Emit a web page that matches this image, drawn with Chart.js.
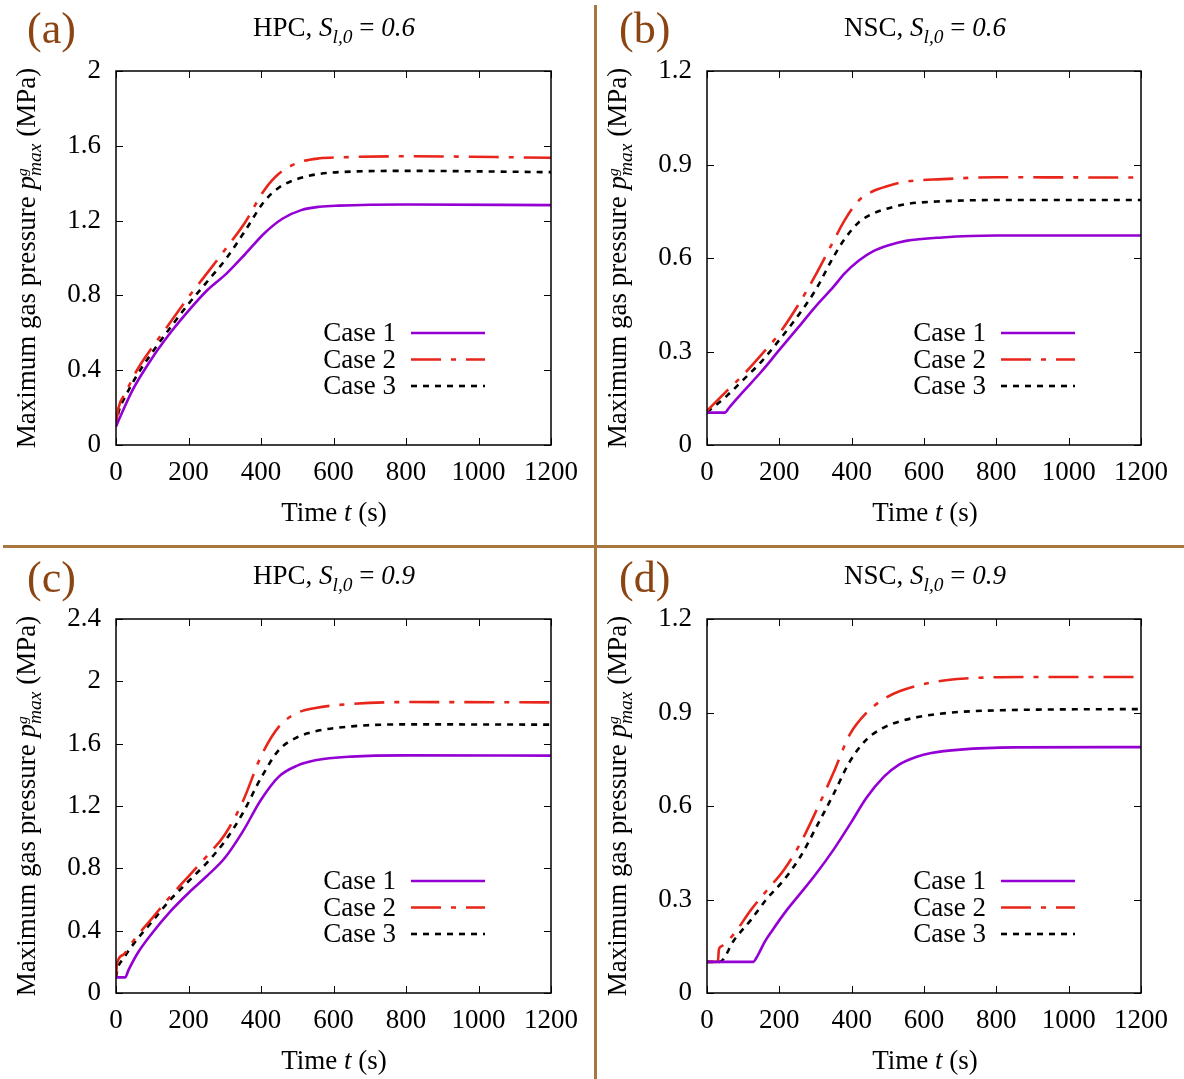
<!DOCTYPE html>
<html>
<head>
<meta charset="utf-8">
<script src="https://cdn.jsdelivr.net/npm/chart.js@4.4.0/dist/chart.umd.min.js"></script>
<style>
  html, body { margin: 0; padding: 0; background: #fff; }
  body { width: 1184px; height: 1079px; position: relative; overflow: hidden;
         font-family: "Liberation Serif", "DejaVu Serif", serif; color: #000; }
  canvas { position: absolute; }
  .tag { position: absolute; font-size: 44px; line-height: 52px; color: #8b4513; }
  .ttl { position: absolute; font-size: 27px; white-space: nowrap; transform: translate(-50%, -50%); }
  .xt { position: absolute; font-size: 27px; white-space: nowrap; transform: translate(-50%, -50%); }
  .yt { position: absolute; font-size: 27px; white-space: nowrap; transform: translate(-50%, -50%) rotate(-90deg); }
  .ss { display: inline-block; vertical-align: -0.32em; line-height: 0.75; font-size: 0.72em; font-style: italic; }
  .ss .g { font-size: 0.8em; }
  .sub { font-size: 0.72em; vertical-align: -0.35em; font-style: italic; }
  .vline { position: absolute; left: 594px; top: 5px; width: 3px; height: 1074px; background: #a8763f; }
  .hline { position: absolute; left: 3px; top: 545px; width: 1181px; height: 3px; background: #a8763f; }
</style>
</head>
<body>
<canvas id="chartA" width="590" height="540" style="left:0;top:0"></canvas>
<canvas id="chartB" width="590" height="540" style="left:590px;top:0"></canvas>
<canvas id="chartC" width="590" height="540" style="left:0;top:540px"></canvas>
<canvas id="chartD" width="590" height="540" style="left:590px;top:540px"></canvas>

<div class="vline"></div>
<div class="hline"></div>

<div class="tag" style="left:27px;top:3px">(a)</div>
<div class="tag" style="left:619px;top:3px">(b)</div>
<div class="tag" style="left:27px;top:552px">(c)</div>
<div class="tag" style="left:619px;top:552px">(d)</div>

<div class="ttl" style="left:334px;top:30px">HPC, <i>S</i><span class="sub">l,0</span> = <i>0.6</i></div>
<div class="ttl" style="left:925px;top:30px">NSC, <i>S</i><span class="sub">l,0</span> = <i>0.6</i></div>
<div class="ttl" style="left:334px;top:578px">HPC, <i>S</i><span class="sub">l,0</span> = <i>0.9</i></div>
<div class="ttl" style="left:925px;top:578px">NSC, <i>S</i><span class="sub">l,0</span> = <i>0.9</i></div>

<div class="xt" style="left:334px;top:512px">Time <i>t</i> (s)</div>
<div class="xt" style="left:925px;top:512px">Time <i>t</i> (s)</div>
<div class="xt" style="left:334px;top:1060px">Time <i>t</i> (s)</div>
<div class="xt" style="left:925px;top:1060px">Time <i>t</i> (s)</div>

<div class="yt" style="left:27px;top:258px">Maximum gas pressure <i>p</i><span class="ss"><span class="g">g</span><br>max</span> (MPa)</div>
<div class="yt" style="left:618px;top:258px">Maximum gas pressure <i>p</i><span class="ss"><span class="g">g</span><br>max</span> (MPa)</div>
<div class="yt" style="left:27px;top:806px">Maximum gas pressure <i>p</i><span class="ss"><span class="g">g</span><br>max</span> (MPa)</div>
<div class="yt" style="left:618px;top:806px">Maximum gas pressure <i>p</i><span class="ss"><span class="g">g</span><br>max</span> (MPa)</div>

<script>
// series labels and styles
const caseLabels = ['Case 1', 'Case 2', 'Case 3'];
const caseColors = ['#9400d3', '#e8251a', '#000000'];
const caseDashes = [[], [30, 10, 5, 10], [6, 6]];

// (a) HPC, S_l,0 = 0.6
const timeA1 = [0, 15, 46, 98, 150, 201, 253, 304, 356, 408, 459, 511, 562, 614, 800, 1200];
const gasA1  = [0.10, 0.166, 0.295, 0.46, 0.60, 0.72, 0.83, 0.915, 1.02, 1.13, 1.21, 1.256, 1.274, 1.28, 1.286, 1.283];
const timeA2 = [0, 7, 26, 57, 98, 150, 201, 253, 304, 356, 408, 449, 500, 562, 614, 800, 1200];
const gasA2  = [0.11, 0.20, 0.277, 0.397, 0.517, 0.656, 0.794, 0.923, 1.053, 1.19, 1.36, 1.45, 1.508, 1.533, 1.538, 1.544, 1.536];
const timeA3 = [0, 7, 26, 57, 98, 150, 201, 253, 304, 356, 408, 449, 500, 562, 665, 800, 1200];
const gasA3  = [0.10, 0.175, 0.26, 0.37, 0.49, 0.628, 0.757, 0.877, 0.997, 1.145, 1.30, 1.376, 1.422, 1.45, 1.463, 1.466, 1.459];

// (b) NSC, S_l,0 = 0.6
const timeB1 = [0, 50, 60, 100, 150, 200, 250, 300, 350, 380, 420, 460, 500, 550, 650, 800, 1200];
const gasB1  = [0.104, 0.104, 0.118, 0.171, 0.235, 0.305, 0.374, 0.444, 0.508, 0.55, 0.592, 0.622, 0.64, 0.655, 0.666, 0.672, 0.672];
const timeB2 = [0, 57, 100, 150, 200, 250, 300, 350, 380, 420, 460, 500, 550, 650, 800, 1200];
const gasB2  = [0.11, 0.176, 0.225, 0.289, 0.358, 0.445, 0.545, 0.655, 0.72, 0.785, 0.815, 0.831, 0.845, 0.853, 0.859, 0.858];
const timeB3 = [0, 57, 100, 150, 200, 250, 300, 350, 380, 420, 460, 500, 550, 650, 800, 1200];
const gasB3  = [0.105, 0.16, 0.209, 0.267, 0.337, 0.412, 0.497, 0.604, 0.66, 0.715, 0.743, 0.759, 0.773, 0.782, 0.786, 0.786];

// (c) HPC, S_l,0 = 0.9
const timeC1 = [0, 25, 35, 60, 100, 150, 200, 250, 300, 350, 400, 450, 500, 550, 650, 800, 1200];
const gasC1  = [0.10, 0.10, 0.15, 0.257, 0.385, 0.524, 0.642, 0.749, 0.866, 1.037, 1.24, 1.39, 1.459, 1.493, 1.517, 1.525, 1.523];
const timeC2 = [0, 3, 20, 50, 100, 150, 200, 250, 300, 350, 400, 450, 500, 550, 650, 800, 1200];
const gasC2  = [0.10, 0.19, 0.246, 0.342, 0.481, 0.62, 0.749, 0.877, 1.016, 1.23, 1.519, 1.711, 1.797, 1.829, 1.855, 1.867, 1.865];
const timeC3 = [0, 5, 20, 50, 100, 150, 200, 250, 300, 350, 400, 450, 500, 550, 650, 800, 1200];
const gasC3  = [0.10, 0.16, 0.22, 0.32, 0.46, 0.599, 0.717, 0.834, 0.973, 1.155, 1.38, 1.561, 1.641, 1.679, 1.711, 1.724, 1.722];

// (d) NSC, S_l,0 = 0.9
const timeD1 = [0, 128, 140, 160, 180, 220, 260, 300, 350, 400, 440, 490, 530, 580, 620, 700, 850, 1200];
const gasD1  = [0.10, 0.10, 0.12, 0.165, 0.20, 0.265, 0.322, 0.38, 0.46, 0.55, 0.625, 0.695, 0.732, 0.758, 0.77, 0.781, 0.788, 0.789];
const timeD2 = [0, 30, 33, 40, 75, 121, 166, 212, 258, 303, 349, 395, 440, 486, 532, 623, 714, 897, 1200];
const gasD2  = [0.10, 0.10, 0.14, 0.15, 0.19, 0.266, 0.33, 0.394, 0.48, 0.587, 0.705, 0.83, 0.898, 0.941, 0.968, 0.997, 1.009, 1.014, 1.014];
const timeD3 = [0, 35, 75, 121, 166, 212, 258, 303, 349, 395, 440, 486, 532, 623, 806, 1200];
const gasD3  = [0.10, 0.10, 0.17, 0.234, 0.303, 0.362, 0.437, 0.534, 0.636, 0.743, 0.812, 0.85, 0.871, 0.893, 0.907, 0.911];

// axis limits
const xMax = 1200, xStep = 200;
const yMaxes = [2, 1.2, 2.4, 1.2];
const ySteps = [0.4, 0.3, 0.4, 0.3];

const font = { family: 'Liberation Serif', size: 27 };

// frame with inward ticks on all four sides, like gnuplot
const framePlugin = {
  id: 'frame',
  afterDatasetsDraw(chart) {
    const { ctx, chartArea: a, scales: { x, y } } = chart;
    ctx.save();
    ctx.strokeStyle = '#000';
    ctx.lineWidth = 1;
    ctx.beginPath();
    x.ticks.forEach(t => {
      const p = Math.round(x.getPixelForValue(t.value)) + 0.5;
      ctx.moveTo(p, a.bottom); ctx.lineTo(p, a.bottom - 7);
      ctx.moveTo(p, a.top); ctx.lineTo(p, a.top + 7);
    });
    y.ticks.forEach(t => {
      const p = Math.round(y.getPixelForValue(t.value)) + 0.5;
      ctx.moveTo(a.left, p); ctx.lineTo(a.left + 7, p);
      ctx.moveTo(a.right, p); ctx.lineTo(a.right - 7, p);
    });
    ctx.stroke();
    ctx.lineWidth = 1.5;
    ctx.strokeRect(a.left, a.top, a.right - a.left, a.bottom - a.top);
    ctx.restore();
  }
};

// key in the lower right, text then line sample
const keyPlugin = {
  id: 'key',
  afterDraw(chart) {
    const { ctx, chartArea: a } = chart;
    ctx.save();
    ctx.font = '27px "Liberation Serif"';
    ctx.textAlign = 'right';
    ctx.textBaseline = 'middle';
    chart.data.datasets.forEach((ds, i) => {
      const yy = a.bottom - 112 + i * 26.5;
      ctx.fillStyle = '#000';
      ctx.fillText(ds.label, a.right - 155, yy + 1);
      ctx.strokeStyle = ds.borderColor;
      ctx.lineWidth = ds.borderWidth;
      ctx.setLineDash(ds.borderDash);
      ctx.beginPath();
      ctx.moveTo(a.right - 140, yy);
      ctx.lineTo(a.right - 66, yy);
      ctx.stroke();
    });
    ctx.restore();
  }
};

function toPoints(ts, vs) {
  return ts.map((t, i) => ({ x: t, y: vs[i] }));
}

function makeChart(id, series, yMax, yStep, pad) {
  new Chart(document.getElementById(id), {
    type: 'line',
    data: {
      datasets: series.map((s, i) => ({
        label: caseLabels[i],
        data: toPoints(s[0], s[1]),
        borderColor: caseColors[i],
        borderDash: caseDashes[i],
        borderWidth: 2.6,
        pointRadius: 0,
        fill: false,
        cubicInterpolationMode: 'monotone'
      }))
    },
    options: {
      responsive: false,
      animation: false,
      devicePixelRatio: 1,
      layout: { padding: pad },
      plugins: { legend: { display: false }, tooltip: { enabled: false } },
      scales: {
        x: {
          type: 'linear', min: 0, max: xMax,
          grid: { display: false, drawTicks: false },
          border: { display: false },
          ticks: { stepSize: xStep, autoSkip: false, maxRotation: 0, color: '#000', font: font, padding: 12,
                   callback: v => String(v) },
          afterFit: s => { s.height = 40; }
        },
        y: {
          min: 0, max: yMax,
          grid: { display: false, drawTicks: false },
          border: { display: false },
          ticks: { stepSize: yStep, color: '#000', font: font, padding: 15,
                   callback: v => String(+v.toFixed(1)) },
          afterFit: s => { s.width = 50; }
        }
      }
    },
    plugins: [framePlugin, keyPlugin]
  });
}

makeChart('chartA', [[timeA1, gasA1], [timeA2, gasA2], [timeA3, gasA3]], yMaxes[0], ySteps[0],
          { left: 66, top: 71, right: 38, bottom: 55 });
makeChart('chartB', [[timeB1, gasB1], [timeB2, gasB2], [timeB3, gasB3]], yMaxes[1], ySteps[1],
          { left: 67, top: 71, right: 37, bottom: 55 });
makeChart('chartC', [[timeC1, gasC1], [timeC2, gasC2], [timeC3, gasC3]], yMaxes[2], ySteps[2],
          { left: 66, top: 79, right: 38, bottom: 47 });
makeChart('chartD', [[timeD1, gasD1], [timeD2, gasD2], [timeD3, gasD3]], yMaxes[3], ySteps[3],
          { left: 67, top: 79, right: 37, bottom: 47 });
</script>
</body>
</html>
